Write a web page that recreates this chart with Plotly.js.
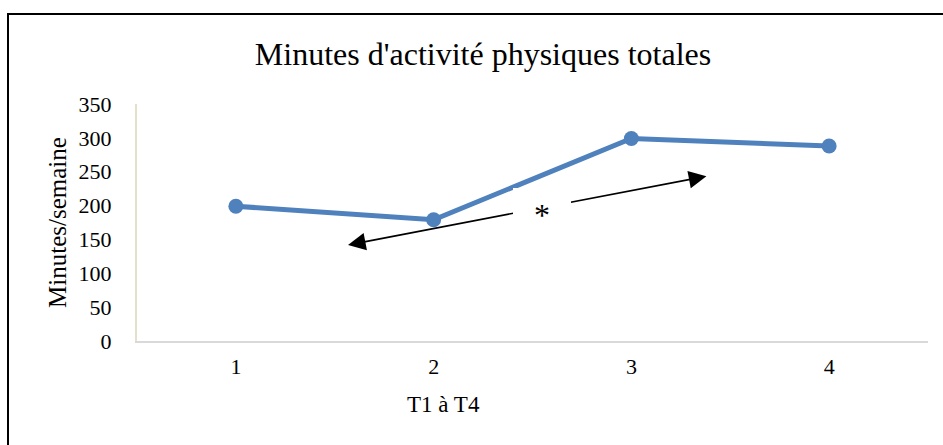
<!DOCTYPE html>
<html>
<head>
<meta charset="utf-8">
<script src="https://cdn.plot.ly/plotly-3.0.1.min.js"></script>
<style>
  html, body { margin: 0; padding: 0; background: #fff; }
  #chart { width: 943px; height: 445px; }
</style>
</head>
<body>
<div id="chart"></div>
<script>
// Temps de mesure T1 à T4 et minutes d'activité physique hebdomadaires
const periods = [1, 2, 3, 4];
const tickLabels = ['1', '2', '3', '4'];
const minutesPerWeek = [199, 179, 299, 288];
const yTicks = [0, 50, 100, 150, 200, 250, 300, 350];

const serif = 'Liberation Serif, Times New Roman, serif';

const trace = {
  x: periods,
  y: minutesPerWeek,
  type: 'scatter',
  mode: 'lines+markers',
  line: { color: '#4f81bd', width: 5 },
  marker: { color: '#4f81bd', size: 15 },
  hoverinfo: 'skip',
  cliponaxis: false
};

const layout = {
  width: 943,
  height: 445,
  margin: { l: 137, r: 15, t: 104, b: 104 },
  paper_bgcolor: '#ffffff',
  plot_bgcolor: '#ffffff',
  showlegend: false,
  title: {
    text: "Minutes d'activité physiques totales",
    font: { family: serif, size: 32, color: '#000' },
    x: 483 / 943,
    xanchor: 'center',
    xref: 'container',
    y: 1 - 54 / 445,
    yanchor: 'middle',
    yref: 'container'
  },
  xaxis: {
    range: [0.5, 4.5],
    tickvals: periods,
    ticktext: tickLabels,
    showgrid: false,
    zeroline: false,
    showline: true,
    linecolor: '#d9d9d9',
    linewidth: 2,
    ticks: '',
    ticklabelstandoff: 5,
    tickfont: { family: serif, size: 22, color: '#000' },
    fixedrange: true
  },
  yaxis: {
    range: [0, 350],
    tickvals: yTicks,
    showgrid: false,
    zeroline: false,
    showline: true,
    linecolor: '#e4e0cc',
    linewidth: 2,
    ticks: '',
    ticklabelstandoff: 19,
    tickfont: { family: serif, size: 22, color: '#000' },
    title: {
      text: 'Minutes/semaine',
      font: { family: serif, size: 25, color: '#000' },
      standoff: 5
    },
    fixedrange: true
  },
  shapes: [
    // cadre du graphique
    {
      type: 'rect', xref: 'paper', yref: 'paper',
      x0: (8 - 137) / 791, x1: 1.1,
      y0: -0.6, y1: (341 - 14) / 237,
      line: { color: '#000', width: 2 },
      fillcolor: 'rgba(0,0,0,0)',
      layer: 'below'
    }
  ],
  annotations: [
    {
      text: 'T1 à T4',
      xref: 'paper', yref: 'paper',
      x: (443 - 137) / 791, y: -(404 - 341) / 237,
      xanchor: 'center', yanchor: 'middle',
      showarrow: false,
      font: { family: serif, size: 23, color: '#000' }
    },
    // flèche double entre T1-T2 et T3-T4
    {
      text: '',
      xref: 'x', yref: 'y', axref: 'x', ayref: 'y',
      x: 1.567, y: 141.8,
      ax: 3.387, ay: 243.7,
      showarrow: true,
      arrowside: 'end+start',
      arrowhead: 2,
      startarrowhead: 2,
      arrowsize: 2.2,
      startarrowsize: 2.2,
      arrowwidth: 1.6,
      arrowcolor: '#000',
      standoff: 0,
      startstandoff: 0
    },
    {
      text: '*',
      xref: 'x', yref: 'y',
      x: 2.548, y: 186,
      xanchor: 'center', yanchor: 'middle',
      showarrow: false,
      bgcolor: '#ffffff',
      borderpad: 0,
      borderwidth: 0,
      width: 58,
      height: 54,
      font: { family: serif, size: 32, color: '#000' }
    }
  ]
};

Plotly.newPlot('chart', [trace], layout, { staticPlot: true, displayModeBar: false });
</script>
</body>
</html>
